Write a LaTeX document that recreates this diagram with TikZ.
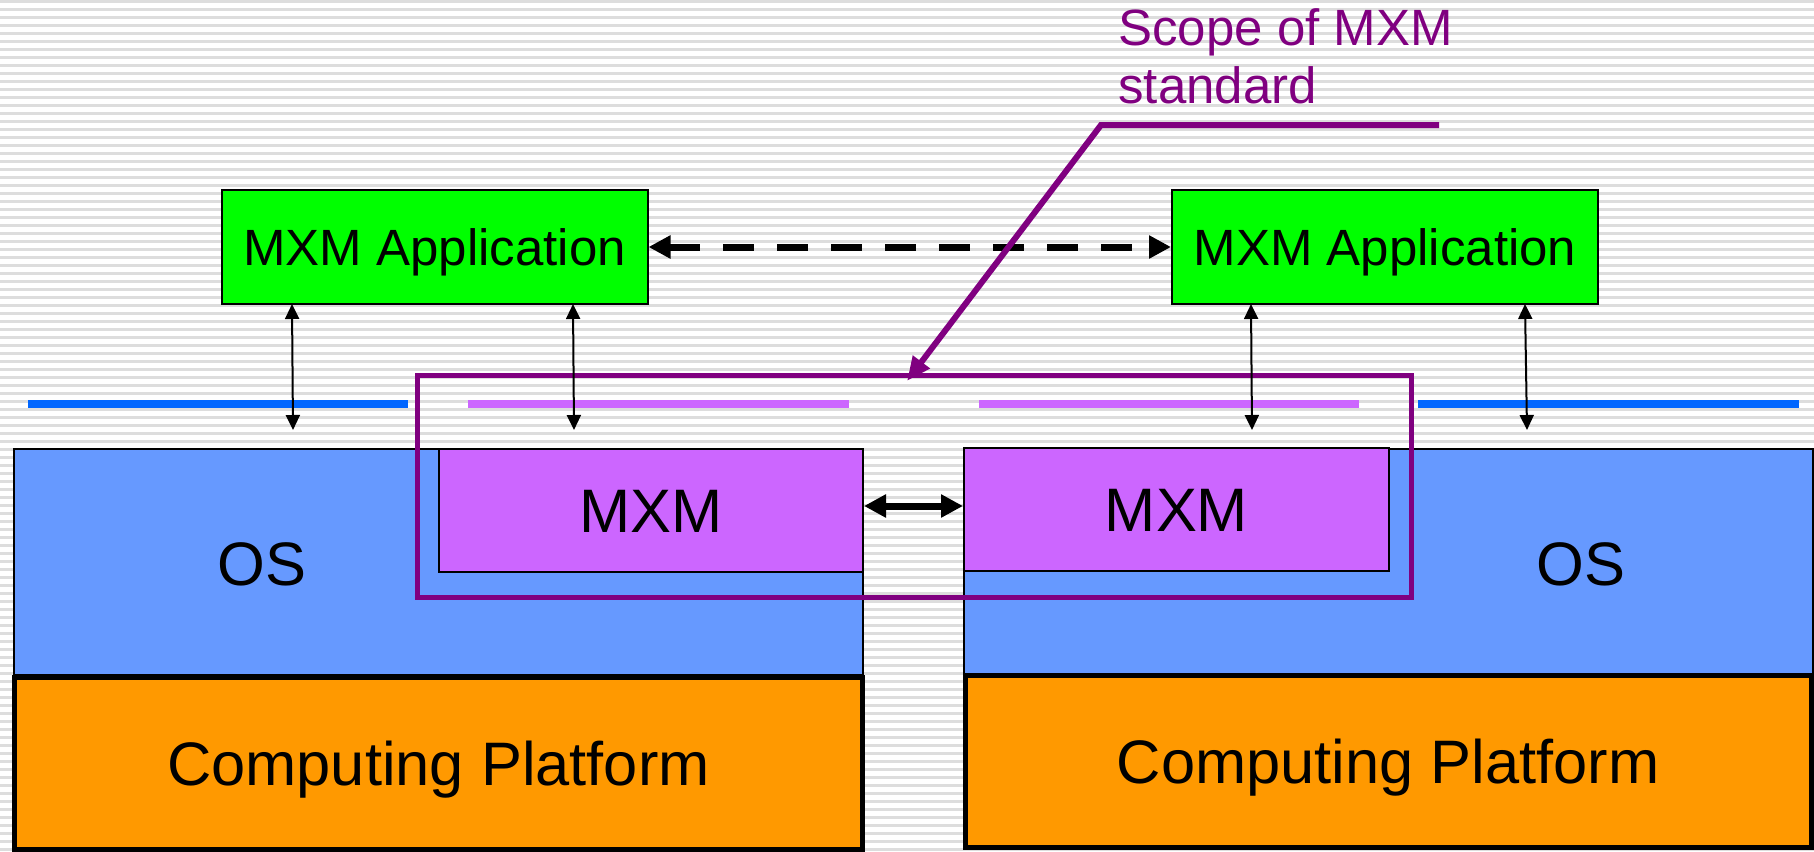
\documentclass[tikz,border=0pt]{standalone}
\usepackage{fontspec}
\setmainfont{Liberation Sans}
\usetikzlibrary{arrows.meta}
\definecolor{appgreen}{HTML}{00FF00}
\definecolor{osblue}{HTML}{6699FF}
\definecolor{cporange}{HTML}{FF9900}
\definecolor{mxmpink}{HTML}{CC66FF}
\definecolor{scopepurple}{HTML}{800080}
\definecolor{layerblue}{HTML}{0066FF}
\definecolor{stripegray}{HTML}{DDDDDD}
\begin{document}
\begin{tikzpicture}[x=0.5pt,y=-0.5pt,
  box/.style={draw=black,line width=1pt,inner sep=0pt,rectangle},
  midfont/.style={font=\fontsize{25.5}{29}\selectfont,text height=18.3pt,text depth=0pt},
  bigfont/.style={font=\fontsize{30.7}{36}\selectfont,text height=22pt,text depth=0pt},
  appbox/.style={box,midfont,fill=appgreen,minimum width=213pt,minimum height=57pt},
  osbox/.style={box,fill=osblue,minimum width=424.5pt,minimum height=113pt},
  cpbox/.style={box,bigfont,line width=2.5pt,fill=cporange,minimum width=424pt,minimum height=86pt},
  mxmbox/.style={box,bigfont,fill=mxmpink,minimum width=212.5pt,minimum height=61.5pt},
  biglabel/.style={inner sep=0pt,bigfont},
  scopelabel/.style={inner sep=0pt,text=scopepurple,font=\fontsize{25.5}{29}\selectfont},
  layerline/.style={line width=3.75pt},
  thinarrow/.style={line width=1pt,{Triangle[length=7.5pt,width=7pt]}-{Triangle[length=7.5pt,width=7pt]}},
  fatarrow/.style={line width=3.5pt,{Triangle[length=11pt,width=11pt]}-{Triangle[length=11pt,width=11pt]}},
]
\useasboundingbox (0,0) rectangle (1814,851);
% striped background
\foreach \i in {0,...,106}
  \fill[stripegray] (0,8*\i) rectangle (1814,8*\i+2.5);

% operating system layers
\node[osbox] (osL) at (438.5,562) {};
\node[osbox] (osR) at (1388.5,562) {};
\node[biglabel] (osLtext) at (262,563) {OS};
\node[biglabel] (osRtext) at (1581,563) {OS};

% computing platforms
\node[cpbox] (cpL) at (438.5,763) {Computing Platform};
\node[cpbox,minimum width=423pt] (cpR) at (1388,761.5) {Computing Platform};

% MXM middleware blocks
\node[mxmbox,minimum width=212pt] (mxmL) at (651,510) {MXM};
\node[mxmbox] (mxmR) at (1176.5,509) {MXM};

% scope of the standard
\node[draw=scopepurple,line width=2.5pt,inner sep=0pt,minimum width=497pt,minimum height=111pt] (scope) at (914,486) {};

% interface lines
\draw[layerline,layerblue] (28,404) coordinate (bl1) -- (408,404) coordinate (bl2);
\draw[layerline,layerblue] (1418,404) coordinate (br1) -- (1799,404) coordinate (br2);
\draw[layerline,mxmpink] (468,404) coordinate (pl1) -- (849,404) coordinate (pl2);
\draw[layerline,mxmpink] (979,404) coordinate (pr1) -- (1359,404) coordinate (pr2);

% applications
\node[appbox] (appL) at (434.5,247) {MXM Application};
\node[appbox] (appR) at (1385,247) {MXM Application};

% application to layer arrows
\coordinate (t1) at (292,304);  \coordinate (e1) at (293,430);
\coordinate (t2) at (573,304);  \coordinate (e2) at (574,430);
\coordinate (t3) at (1251,304); \coordinate (e3) at (1252,430);
\coordinate (t4) at (1525,304); \coordinate (e4) at (1527,430);
\draw[thinarrow] (t1) -- (e1);
\draw[thinarrow] (t2) -- (e2);
\draw[thinarrow] (t3) -- (e3);
\draw[thinarrow] (t4) -- (e4);

% peer communication
\draw[fatarrow,dash pattern=on 15.5pt off 11.5pt] (appL.east) -- (appR.west);
\draw[fatarrow] ([yshift=2pt]mxmL.east) -- ([yshift=2pt]mxmL.east -| mxmR.west);

% callout
\node[scopelabel,anchor=base west] (scope1) at (1118,45) {Scope of MXM};
\node[scopelabel,anchor=base west] (scope2) at (1118,103) {standard};
\coordinate (lead1) at (1439,125);
\coordinate (lead2) at (1101,125);
\coordinate (lead3) at (907,381);
\draw[scopepurple,line width=3pt,-{Triangle[length=12pt,width=10pt]}] (lead1) -- (lead2) -- (lead3);
\end{tikzpicture}
\end{document}
